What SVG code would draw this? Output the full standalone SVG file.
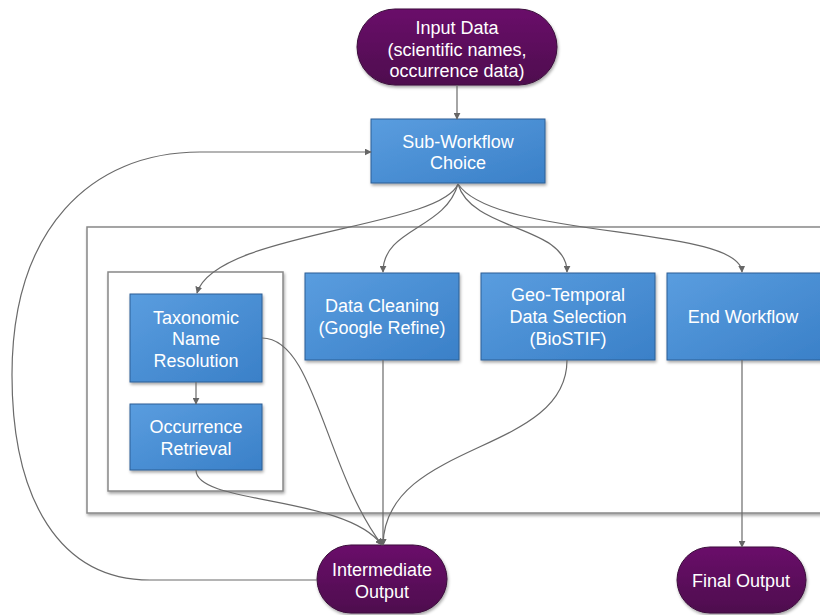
<svg xmlns="http://www.w3.org/2000/svg" width="820" height="615" viewBox="0 0 820 615">
<defs>
<linearGradient id="gBlue" x1="0" y1="0" x2="1" y2="1">
<stop offset="0" stop-color="#5a9ddf"/>
<stop offset="1" stop-color="#3a80c8"/>
</linearGradient>
<linearGradient id="gPurple" x1="0" y1="0" x2="0" y2="1">
<stop offset="0" stop-color="#6a0f6a"/>
<stop offset="1" stop-color="#4e084e"/>
</linearGradient>
<filter id="sh" x="-10%" y="-10%" width="130%" height="140%">
<feDropShadow dx="1" dy="2" stdDeviation="1.5" flood-color="#000" flood-opacity="0.35"/>
</filter>
<marker id="arr" viewBox="0 0 10 10" refX="9" refY="5" markerWidth="7" markerHeight="7" orient="auto" markerUnits="userSpaceOnUse">
<path d="M0,0 L10,5 L0,10 z" fill="#666"/>
</marker>
<style>
.blue{fill:url(#gBlue);stroke:#2c5f95;stroke-width:1;filter:url(#sh)}
.pill{fill:url(#gPurple);stroke:#3a0a3a;stroke-width:1;filter:url(#sh)}
.cont{fill:#fff;stroke:#888;stroke-width:1.5;filter:url(#sh)}
.t{font-family:"Liberation Sans",Arial,sans-serif;font-size:18px;fill:#fff;text-anchor:middle}
.c{fill:none;stroke:#6a6a6a;stroke-width:1.2}
</style>
</defs>
<rect width="820" height="615" fill="#fff"/>
<g id="containers">
<rect class="cont" x="87" y="227" width="740" height="286"/>
<rect class="cont" x="108" y="272" width="175" height="219"/>
</g>
<g id="input">
<rect class="pill" x="357" y="9" width="200" height="76" rx="38"/>
<text class="t" x="457" y="34">Input Data</text>
<text class="t" x="457" y="56">(scientific names,</text>
<text class="t" x="457" y="77">occurrence data)</text>
</g>
<g id="choice">
<rect class="blue" x="371" y="119" width="174" height="64"/>
<text class="t" x="458" y="148">Sub-Workflow</text>
<text class="t" x="458" y="169">Choice</text>
</g>
<g id="taxo">
<rect class="blue" x="130" y="294" width="132" height="88"/>
<text class="t" x="196" y="324">Taxonomic</text>
<text class="t" x="196" y="345">Name</text>
<text class="t" x="196" y="367">Resolution</text>
</g>
<g id="occ">
<rect class="blue" x="130" y="404" width="132" height="66"/>
<text class="t" x="196" y="433">Occurrence</text>
<text class="t" x="196" y="455">Retrieval</text>
</g>
<g id="clean">
<rect class="blue" x="305" y="273" width="154" height="87"/>
<text class="t" x="382" y="312">Data Cleaning</text>
<text class="t" x="382" y="334">(Google Refine)</text>
</g>
<g id="geo">
<rect class="blue" x="481" y="273" width="174" height="87"/>
<text class="t" x="568" y="301">Geo-Temporal</text>
<text class="t" x="568" y="323">Data Selection</text>
<text class="t" x="568" y="345">(BioSTIF)</text>
</g>
<g id="endwf">
<rect class="blue" x="667" y="273" width="160" height="87"/>
<text class="t" x="743" y="323">End Workflow</text>
</g>
<g id="inter">
<rect class="pill" x="317" y="545" width="130" height="68" rx="34"/>
<text class="t" x="382" y="576">Intermediate</text>
<text class="t" x="382" y="598">Output</text>
</g>
<g id="final">
<rect class="pill" x="677" y="547" width="129" height="66" rx="33"/>
<text class="t" x="741" y="587">Final Output</text>
</g>
<g id="connectors">
<path class="c" d="M457,85 L457,119" marker-end="url(#arr)"/>
<path class="c" d="M458,184 C 440,228 215,232 197,293" marker-end="url(#arr)"/>
<path class="c" d="M458,184 C 445,230 383,228 383,272" marker-end="url(#arr)"/>
<path class="c" d="M458,184 C 472,232 567,225 567,272" marker-end="url(#arr)"/>
<path class="c" d="M458,184 C 495,240 740,225 742,272" marker-end="url(#arr)"/>
<path class="c" d="M196,382 L196,404" marker-end="url(#arr)"/>
<path class="c" d="M262,338 C 315,338 325,470 382,545" marker-end="url(#arr)"/>
<path class="c" d="M196,470 C 196,505 345,495 382,545" marker-end="url(#arr)"/>
<path class="c" d="M383,360 L383,545" marker-end="url(#arr)"/>
<path class="c" d="M567,360 C 567,455 385,440 383,545" marker-end="url(#arr)"/>
<path class="c" d="M742,360 L742,547" marker-end="url(#arr)"/>
<path class="c" d="M317,580 L150,580 C 60,580 12,500 12,375 C 12,230 90,152 200,152 L371,152" marker-end="url(#arr)"/>
</g>
</svg>
